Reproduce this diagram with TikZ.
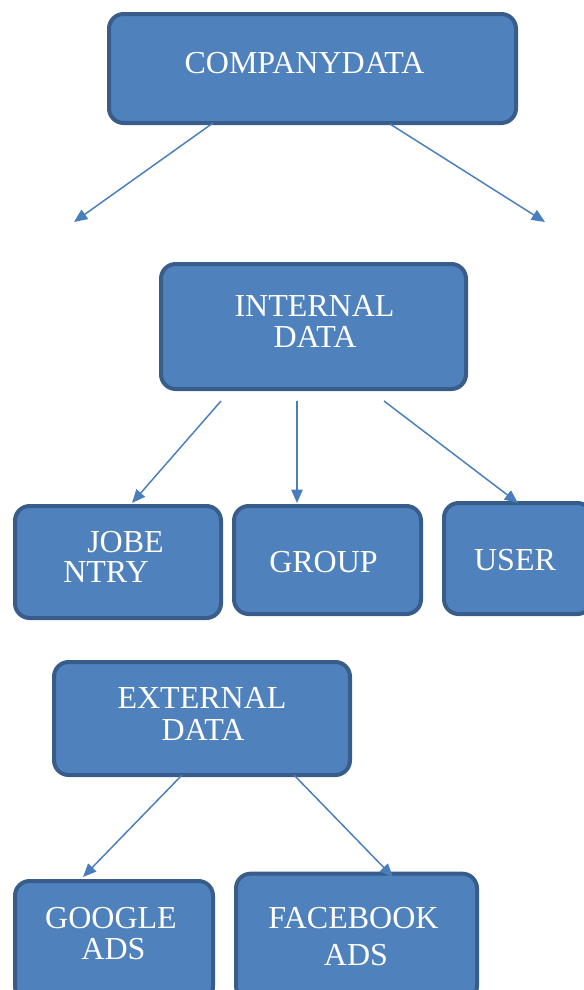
\documentclass[tikz,border=0pt]{standalone}
\usepackage{fontspec}
\setmainfont{Liberation Serif}
\usetikzlibrary{arrows.meta}
\definecolor{boxfill}{HTML}{4F81BD}
\definecolor{boxline}{HTML}{385D8A}
\definecolor{arrowcol}{HTML}{4A7EBB}
\tikzset{
  box/.style={draw=boxline, fill=boxfill, line width=3pt, rounded corners=11pt, inner sep=0pt},
  lbl/.style={anchor=base, text=white, inner sep=0pt, font=\fontsize{24pt}{24pt}\selectfont},
  conn/.style={draw=arrowcol, line width=1.1pt, -{Triangle[length=10pt,width=8.5pt]}}
}
\begin{document}
\begin{tikzpicture}[x=0.75pt, y=-0.75pt]
\useasboundingbox (0,0) rectangle (583,990);
% boxes (centre, width, height in px)
\node[box, minimum width=305.25pt, minimum height=81.75pt] (company) at (312.5,68.5) {};
\node[box, minimum width=228.75pt, minimum height=93.75pt] (internal) at (313.5,326.5) {};
\node[box, minimum width=154.5pt, minimum height=84pt] (jobentry) at (118,562) {};
\node[box, minimum width=140.25pt, minimum height=81pt] (group) at (327.5,560) {};
\node[box, minimum width=111pt, minimum height=83.25pt] (user) at (518,558.5) {};
\node[box, minimum width=222pt, minimum height=84.75pt] (external) at (202,718.5) {};
\node[box, minimum width=148.5pt, minimum height=90pt] (google) at (114,941) {};
\node[box, minimum width=180.75pt, minimum height=95pt] (facebook) at (356.5,937) {};
% labels
\node[lbl] (companyT) at (304.5,73) {COMPANYDATA};
\node[lbl] (internalT1) at (314.5,316) {INTERNAL};
\node[lbl] (internalT2) at (315,347) {DATA};
\node[lbl] (jobentryT1) at (125.5,552) {JOBE};
\node[lbl] (jobentryT2) at (106,582) {NTRY};
\node[lbl] (groupT) at (323.5,572) {GROUP};
\node[lbl] (userT) at (515,570) {USER};
\node[lbl] (externalT1) at (202,708) {EXTERNAL};
\node[lbl] (externalT2) at (203,740) {DATA};
\node[lbl] (googleT1) at (111,928) {GOOGLE};
\node[lbl] (googleT2) at (113.5,959) {ADS};
\node[lbl] (facebookT1) at (353.5,928) {FACEBOOK};
\node[lbl] (facebookT2) at (356,965) {ADS};
% connector end points
\coordinate (c1s) at (213,123);
\coordinate (c1e) at (74,222);
\coordinate (c2s) at (390,124);
\coordinate (c2e) at (545,222);
\coordinate (i1s) at (221,401);
\coordinate (i1e) at (132,503);
\coordinate (i2s) at (297,401);
\coordinate (i2e) at (297,503);
\coordinate (i3s) at (384,401);
\coordinate (i3e) at (518,503);
\coordinate (e1s) at (182,775);
\coordinate (e1e) at (83,877);
\coordinate (e2s) at (294,775);
\coordinate (e2e) at (393,877);
% connectors
\draw[conn] (c1s) -- (c1e);
\draw[conn] (c2s) -- (c2e);
\draw[conn] (i1s) -- (i1e);
\draw[conn] (i2s) -- (i2e);
\draw[conn] (i3s) -- (i3e);
\draw[conn] (e1s) -- (e1e);
\draw[conn] (e2s) -- (e2e);
\end{tikzpicture}
\end{document}
